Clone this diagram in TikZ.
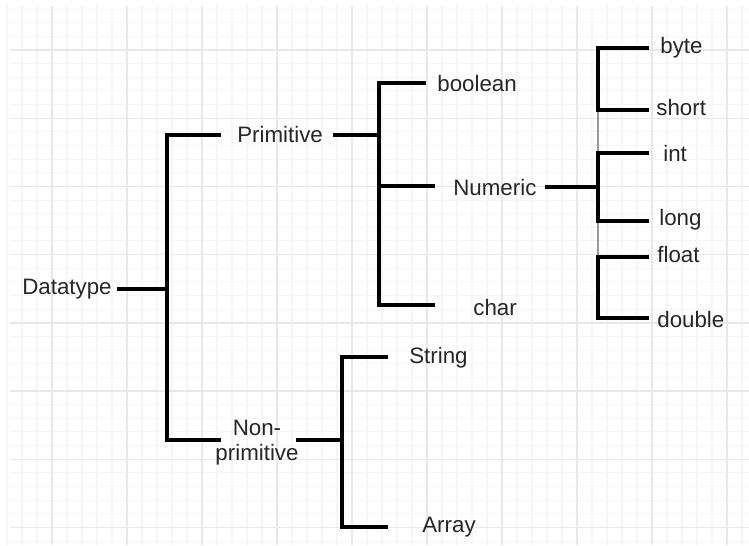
\documentclass[tikz,border=0pt]{standalone}
\usepackage{fontspec}
\setmainfont{Liberation Sans}
\usetikzlibrary{positioning}
\begin{document}
\begin{tikzpicture}[x=0.02cm,y=-0.02cm,
  branch/.style={line width=1.9pt,black},
  link/.style={line width=1.2pt,black!40},
  item/.style={font=\fontsize{12.7}{14.2}\selectfont,text=black!85,inner sep=0pt,anchor=west}]
\useasboundingbox (0,0) rectangle (749,545);
% grid
\foreach \x in {7,22,...,747}
  \draw[gray!7,line width=0.6pt] (\x,6) -- (\x,545);
\foreach \k in {0,...,39}
  \draw[gray!7,line width=0.6pt] (10,9.08+13.64*\k) -- (749,9.08+13.64*\k);
\foreach \x in {52,127,...,727}
  \draw[gray!18,line width=0.8pt] (\x,6) -- (\x,545);
\foreach \k in {0,...,7}
  \draw[gray!18,line width=0.8pt] (10,50+68.2*\k) -- (749,50+68.2*\k);

% labels
\node[item] (dt) at (22,289) {Datatype};
\node[item] (prim) at (237,135) {Primitive};
\node[item,anchor=center,align=center] (nonprim) at (257,443) {Non-\\primitive};
\node[item] (bool) at (437,84) {boolean};
\node[item] (num) at (453,188) {Numeric};
\node[item] (chr) at (473,308) {char};
\node[item] (byte) at (660,48) {byte};
\node[item] (short) at (656,108) {short};
\node[item] (int) at (663,153) {int};
\node[item] (long) at (659,220) {long};
\node[item] (float) at (657,255) {float};
\node[item] (double) at (657,320) {double};
\node[item] (str) at (409,358) {String};
\node[item] (arr) at (422,527) {Array};

% line ends
\coordinate (dtR) at (117,289);
\coordinate (primL) at (221,135);
\coordinate (primR) at (333,135);
\coordinate (nonL) at (221,440);
\coordinate (nonR) at (296,440);
\coordinate (rB) at (167,440);
\coordinate (boolL) at (426,83);
\coordinate (numL) at (435,186);
\coordinate (charL) at (435,305);
\coordinate (pB) at (379,305);
\coordinate (numR) at (545,187);
\coordinate (byteL) at (649,48);
\coordinate (shortL) at (649,110);
\coordinate (intL) at (649,153);
\coordinate (longL) at (649,221);
\coordinate (floatL) at (649,257);
\coordinate (doubleL) at (649,318);
\coordinate (nA) at (598,110);
\coordinate (nB) at (598,221);
\coordinate (nC) at (598,318);
\coordinate (strL) at (388,357);
\coordinate (arrL) at (388,527);
\coordinate (qB) at (342,527);

\draw[branch] (dtR) -- (rB |- dtR);
\draw[branch] (primL) -| (rB) -- (nonL);
\draw[branch] (primR) -- (pB |- primR);
\draw[branch] (boolL) -| (pB) -- (charL);
\draw[branch] (pB |- numL) -- (numL);
\draw[branch] (numR) -- (nA |- numR);
\draw[link] (nA) -- (nA |- intL);
\draw[link] (nB) -- (nB |- floatL);
\draw[branch] (byteL) -| (nA) -- (shortL);
\draw[branch] (intL) -| (nB) -- (longL);
\draw[branch] (floatL) -| (nC) -- (doubleL);
\draw[branch] (nonR) -- (qB |- nonR);
\draw[branch] (strL) -| (qB) -- (arrL);
\end{tikzpicture}
\end{document}
